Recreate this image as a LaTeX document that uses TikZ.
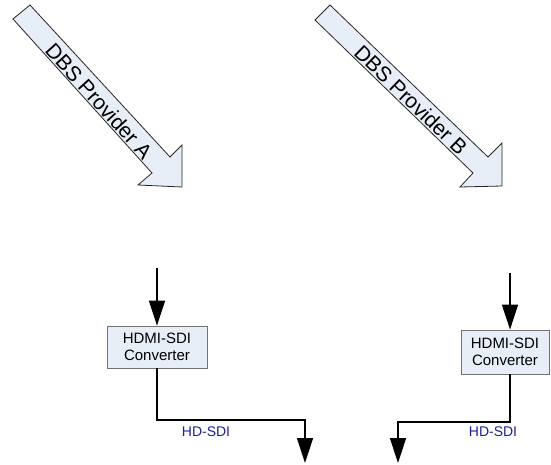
\documentclass[tikz,border=0pt]{standalone}
\usepackage{fontspec}
\setmainfont{Liberation Sans}
\usepackage{tikz}
\usetikzlibrary{
    arrows.meta,
    calc,
    positioning
}
\definecolor{boxfill}{RGB}{232,238,247}
\definecolor{sdiblue}{RGB}{30,30,150}
\tikzset{
    feed/.style={draw=black!85, line width=0.8pt, fill=boxfill, line join=miter},
    conv/.style={draw=black!55, line width=0.8pt, fill=boxfill, align=center,
        inner sep=0pt, font=\fontsize{15}{17.5}\selectfont},
    sig/.style={line width=1.5pt, -{Triangle[width=16pt,length=25pt]}},
    sdi/.style={text=sdiblue, font=\fontsize{14}{16}\selectfont}
}

\begin{document}
\begin{tikzpicture}[x=1pt, y=-1pt]
                    \useasboundingbox (0, 0) rectangle (551, 464);
                    \draw[feed] (30, 5) -- (13, 19) -- (152, 173) -- (138, 185) -- (182, 187) -- (182, 145) -- (170, 157) -- cycle;
                    \node[rotate=-47.9, font=\fontsize{21}{23}\selectfont] (provA) at (99, 101) {DBS Provider A};
                    \draw[feed] (330, 5) -- (315, 20) -- (473, 173) -- (460, 187) -- (502, 186) -- (502, 143) -- (488, 157) -- cycle;
                    \node[rotate=-44.1, font=\fontsize{21}{23}\selectfont] (provB) at (411, 100) {DBS Provider B};
                    \node[conv, minimum width=100pt, minimum height=42pt] (convA) at (157, 347) {HDMI-SDI\\Converter};
                    \node[conv, minimum width=88pt, minimum height=44pt] (convB) at (505, 352) {HDMI-SDI\\Converter};
                    \coordinate (inA) at (157, 268);
                    \coordinate (inB) at (510, 273);
                    \coordinate (bendA) at (305, 420);
                    \coordinate (outA) at (305, 463);
                    \coordinate (bendB) at (398, 422);
                    \coordinate (outB) at (398, 463);
                    \draw[sig] (inA) -- (convA.north);
                    \draw[sig] (inB) -- (inB |- convB.north);
                    \draw[sig] (convA.south) |- (bendA) -- (outA);
                    \draw[sig] (inB |- convB.south) |- (bendB) -- (outB);
                    \node[sdi] (sdiA) at (206, 432) {HD-SDI};
                    \node[sdi] (sdiB) at (493, 432) {HD-SDI};
                \end{tikzpicture}
\end{document}
